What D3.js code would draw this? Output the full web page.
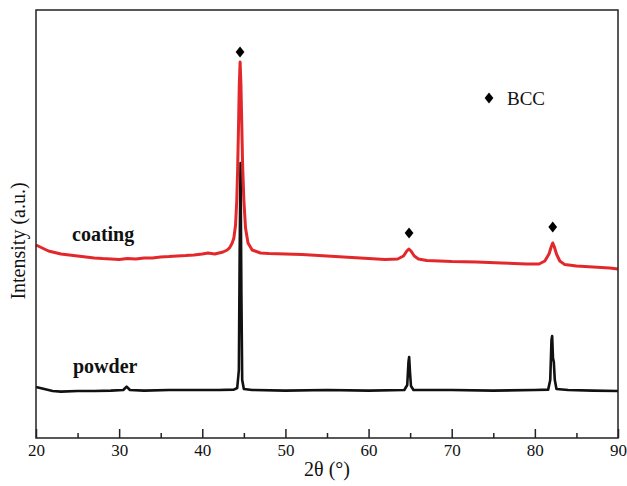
<!DOCTYPE html>
<html>
<head>
<meta charset="utf-8">
<script src="https://cdn.jsdelivr.net/npm/d3@7"></script>
<style>
  body { margin: 0; background: #fff; }
  svg, svg text { font-family: "Liberation Serif", "Times New Roman", serif; }
</style>
</head>
<body>
<div id="chart"></div>
<script>
// 2theta (deg) and intensity (a.u.)
const coatingTheta = [20, 20.5, 21, 21.5, 22, 23, 24, 25, 26, 27, 28, 29, 30, 31, 32, 33, 34, 35, 36, 37, 38, 39, 40, 40.7, 41.5, 42.5, 43, 43.3, 43.6, 43.8, 44.0, 44.15, 44.25, 44.35, 44.45, 44.55, 44.65, 44.75, 44.85, 45.0, 45.2, 45.5, 46, 47, 48, 50, 52, 55, 57, 60, 62, 63.5, 64.2, 64.6, 64.85, 65.1, 65.5, 66, 67, 70, 73, 76, 79, 80.5, 81.2, 81.7, 82.0, 82.15, 82.35, 82.6, 83.0, 83.6, 85, 87, 89, 90];
const coatingInt = [965, 955, 945, 935, 930, 920, 915, 910, 905, 900, 897, 895, 892, 897, 895, 900, 900, 905, 907, 910, 912, 915, 920, 925, 920, 930, 940, 952, 975, 1000, 1065, 1190, 1340, 1540, 1765, 1880, 1765, 1565, 1365, 1190, 1050, 975, 940, 925, 922, 920, 918, 910, 905, 898, 892, 895, 910, 935, 945, 935, 910, 895, 888, 882, 880, 875, 870, 870, 885, 920, 960, 975, 955, 920, 885, 867, 860, 855, 850, 845];

const powderTheta = [20, 21, 22, 23, 25, 27, 29, 30.5, 30.9, 31.3, 33, 36, 39, 42, 43.8, 44.2, 44.4, 44.5, 44.6, 44.7, 44.8, 45.0, 46, 50, 55, 60, 64.3, 64.65, 64.8, 64.88, 64.98, 65.1, 65.4, 70, 75, 80, 81.6, 81.85, 82.0, 82.08, 82.18, 82.28, 82.4, 82.6, 84, 87, 90];
const powderInt = [255, 245, 235, 232, 235, 235, 237, 240, 257, 240, 237, 240, 240, 240, 242, 250, 340, 940, 1375, 740, 290, 245, 240, 237, 240, 237, 240, 265, 380, 405, 330, 260, 240, 240, 237, 240, 242, 290, 490, 510, 400, 380, 290, 245, 240, 237, 235];

// BCC reflections marked on the coating pattern
const bccTheta = [44.54, 64.87, 82.15];
const bccInt = [1930, 1025, 1055];

const xTicks = [20, 30, 40, 50, 60, 70, 80, 90];
const xMinorTicks = [25, 35, 45, 55, 65, 75, 85];

const width = 627, height = 486;
const margin = {top: 10, right: 9, bottom: 48, left: 36};
const w = width - margin.left - margin.right;
const h = height - margin.top - margin.bottom;
const serif = '"Liberation Serif", "Times New Roman", serif';

const svg = d3.select('#chart').append('svg')
  .attr('width', width)
  .attr('height', height);

const g = svg.append('g')
  .attr('transform', `translate(${margin.left},${margin.top})`);

const x = d3.scaleLinear().domain([20, 90]).range([0, w]);
const y = d3.scaleLinear().domain([0, 2140]).range([h, 0]);

const line = d3.line()
  .x(d => x(d[0]))
  .y(d => y(d[1]));

g.append('path')
  .datum(d3.zip(powderTheta, powderInt))
  .attr('fill', 'none')
  .attr('stroke', '#111')
  .attr('stroke-width', 2.6)
  .attr('stroke-linejoin', 'round')
  .attr('d', line);

g.append('path')
  .datum(d3.zip(coatingTheta, coatingInt))
  .attr('fill', 'none')
  .attr('stroke', '#e3282b')
  .attr('stroke-width', 3)
  .attr('stroke-linejoin', 'round')
  .attr('d', line);

// a slightly squat diamond like the marker in the figure
const squatDiamond = {
  draw(context, size) {
    const r = Math.sqrt(size / 2);
    const hx = r * 0.8, hy = r;
    context.moveTo(0, -hy);
    context.lineTo(hx, 0);
    context.lineTo(0, hy);
    context.lineTo(-hx, 0);
    context.closePath();
  }
};
const diamond = d3.symbol().type(squatDiamond).size(60);

g.selectAll('.bcc')
  .data(d3.zip(bccTheta, bccInt))
  .enter().append('path')
  .attr('class', 'bcc')
  .attr('transform', d => `translate(${x(d[0])},${y(d[1])})`)
  .attr('d', diamond)
  .attr('fill', '#000');

// frame
g.append('rect')
  .attr('width', w)
  .attr('height', h)
  .attr('fill', 'none')
  .attr('stroke', '#222')
  .attr('stroke-width', 1.5);

// x axis, ticks pointing inward
const xAxis = g.append('g')
  .attr('transform', `translate(0,${h})`)
  .call(d3.axisBottom(x).tickValues(xTicks).tickSizeInner(-9).tickSizeOuter(0).tickPadding(6))
  .attr('font-family', serif)
  .attr('font-size', 17);
xAxis.select('.domain').remove();
xAxis.selectAll('line').attr('stroke', '#222').attr('stroke-width', 1.5);
xAxis.selectAll('text').attr('fill', '#111');

g.append('g')
  .attr('transform', `translate(0,${h})`)
  .call(d3.axisBottom(x).tickValues(xMinorTicks).tickSize(-5).tickFormat(''))
  .call(a => a.select('.domain').remove())
  .selectAll('line').attr('stroke', '#222').attr('stroke-width', 1.5);

svg.append('text')
  .attr('x', margin.left + w / 2)
  .attr('y', 476)
  .attr('text-anchor', 'middle')
  .attr('font-size', 20)
  .attr('fill', '#111')
  .text('2θ (°)');

svg.append('text')
  .attr('transform', 'translate(25,241) rotate(-90)')
  .attr('text-anchor', 'middle')
  .attr('font-size', 20)
  .attr('fill', '#111')
  .text('Intensity (a.u.)');

svg.append('text')
  .attr('x', 72)
  .attr('y', 241)
  .attr('font-size', 20)
  .attr('font-weight', 'bold')
  .attr('fill', '#111')
  .text('coating');

svg.append('text')
  .attr('x', 73)
  .attr('y', 373)
  .attr('font-size', 20)
  .attr('font-weight', 'bold')
  .attr('fill', '#111')
  .text('powder');

// legend
svg.append('path')
  .attr('transform', 'translate(489,98)')
  .attr('d', diamond)
  .attr('fill', '#000');

svg.append('text')
  .attr('x', 507)
  .attr('y', 105)
  .attr('font-size', 19)
  .attr('fill', '#111')
  .text('BCC');
</script>
</body>
</html>
